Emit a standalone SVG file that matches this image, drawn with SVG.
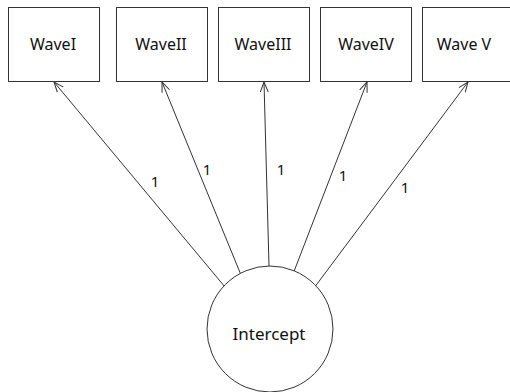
<svg xmlns="http://www.w3.org/2000/svg" width="510" height="392" viewBox="0 0 510 392">
  <style>
    .box { fill: #ffffff; stroke: #333333; stroke-width: 1; }
    .lbl { font-family: "Noto Sans", "Open Sans", sans-serif; font-size: 16px; fill: #111111; text-anchor: middle; dominant-baseline: central; }
    .coef { font-family: "Noto Sans", "Open Sans", sans-serif; font-size: 15px; fill: #111111; text-anchor: middle; dominant-baseline: central; }
    .edge { stroke: #333333; stroke-width: 1; fill: none; marker-end: url(#arrow); }
  </style>
  <defs>
    <marker id="arrow" viewBox="0 0 10 10" refX="10" refY="5" markerWidth="10" markerHeight="10" markerUnits="userSpaceOnUse" orient="auto">
      <polyline points="0,1 10,5 0,9" fill="none" stroke="#333333" stroke-width="1"/>
    </marker>
  </defs>
  <rect width="510" height="392" fill="#ffffff"/>

  <!-- loadings from the intercept to each wave -->
  <g id="connectors">
    <line class="edge" x1="225" y1="287" x2="54" y2="82"/>
    <line class="edge" x1="241" y1="275" x2="162" y2="82"/>
    <line class="edge" x1="269" y1="266" x2="264" y2="82"/>
    <line class="edge" x1="293" y1="274" x2="367" y2="82"/>
    <line class="edge" x1="314" y1="288" x2="468" y2="82"/>
    <text class="coef" x="155" y="181">1</text>
    <text class="coef" x="207" y="169">1</text>
    <text class="coef" x="281" y="169">1</text>
    <text class="coef" x="343" y="175">1</text>
    <text class="coef" x="405" y="187">1</text>
  </g>

  <g id="wave1">
    <rect class="box" x="8.5" y="7.5" width="91" height="74"/>
    <text class="lbl" x="53" y="44">WaveI</text>
  </g>
  <g id="wave2">
    <rect class="box" x="116.5" y="7.5" width="91" height="74"/>
    <text class="lbl" x="161" y="44">WaveII</text>
  </g>
  <g id="wave3">
    <rect class="box" x="218.5" y="7.5" width="91" height="74"/>
    <text class="lbl" x="263" y="44">WaveIII</text>
  </g>
  <g id="wave4">
    <rect class="box" x="320.5" y="7.5" width="91" height="74"/>
    <text class="lbl" x="366" y="44">WaveIV</text>
  </g>
  <g id="wave5">
    <rect class="box" x="422.5" y="7.5" width="91" height="74"/>
    <text class="lbl" x="464" y="44">Wave V</text>
  </g>

  <g id="intercept">
    <circle cx="270" cy="329" r="63" fill="#ffffff" stroke="#333333" stroke-width="1"/>
    <text class="lbl" x="269" y="333" style="font-size:17px">Intercept</text>
  </g>
</svg>
